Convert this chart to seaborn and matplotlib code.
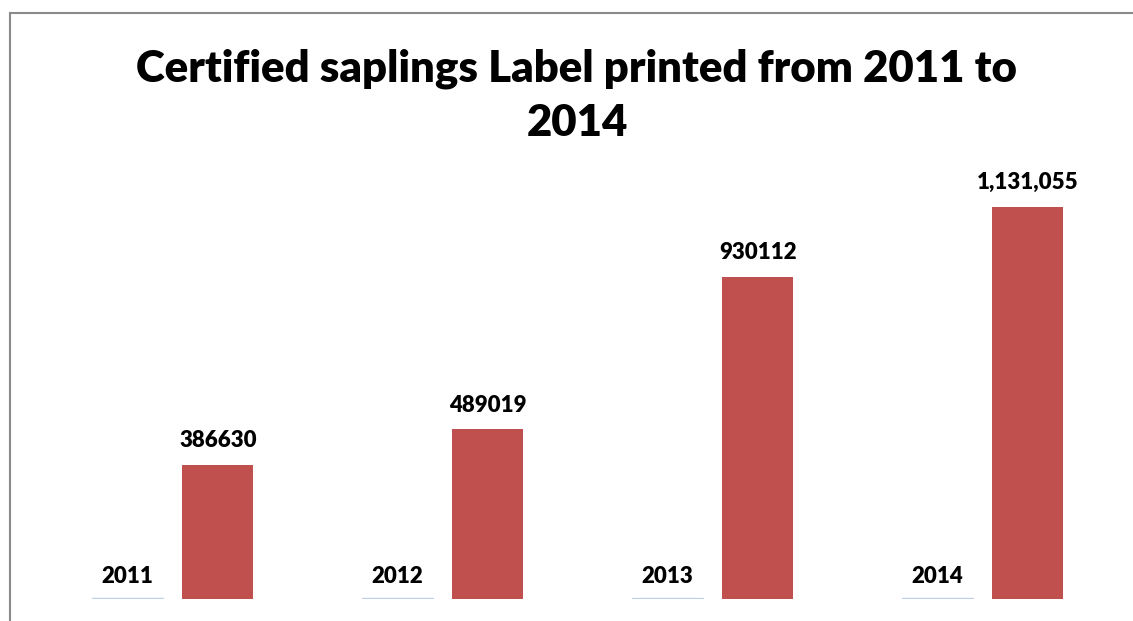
import matplotlib
matplotlib.use("Agg")
import matplotlib.pyplot as plt
import seaborn as sns
import pandas as pd
from matplotlib.patches import Rectangle

years = ["2011", "2012", "2013", "2014"]
year_values = [2011, 2012, 2013, 2014]
label_values = [386630, 489019, 930112, 1131055]
label_texts = ["386630", "489019", "930112", "1,131,055"]
series_names = ["Year", "Labels printed"]

df = pd.DataFrame({
    "cat": years * 2,
    "value": year_values + label_values,
    "series": [series_names[0]] * 4 + [series_names[1]] * 4,
})

sns.set_theme(style="white")
plt.rcParams['font.family'] = ['Lato', 'DejaVu Sans']

W, H = 1133, 621
fig = plt.figure(figsize=(W / 100, H / 100), dpi=100)
ax = fig.add_axes([37.75 / W, (H - 599) / H, 1080 / W, 416 / H])

sns.barplot(data=df, x="cat", y="value", hue="series", order=years,
            hue_order=series_names, palette=["#BDD0E8", "#C0504D"],
            width=0.67, saturation=1, legend=False, ax=ax)

bw = 71 / 270
for i, p in enumerate(ax.patches):
    c = p.get_x() + p.get_width() / 2
    p.set_width(bw)
    p.set_x(c - bw / 2)
    p.set_linewidth(0)
for p in ax.containers[0]:
    p.set_edgecolor("#BDD0E8")
    p.set_linewidth(1.0)

ax.set_xlim(-0.5, 3.5)
ax.set_ylim(0, 1.2e6)
ax.axis("off")

ax.bar_label(ax.containers[0], labels=years, padding=8, fontsize=16,
             fontweight="heavy", color="black")
ax.bar_label(ax.containers[1], labels=label_texts, padding=10, fontsize=16,
             fontweight="heavy", color="black")

fig.text(577 / W, 1 - 96 / H, "Certified saplings Label printed from 2011 to\n2014",
         ha="center", va="center", fontsize=31.5, fontweight="heavy",
         linespacing=1.42, color="black")

fig.patches.append(Rectangle((9.5 / W, -0.2), 1.5, 1.2 - 12.5 / H,
                             transform=fig.transFigure, fill=False,
                             edgecolor="#8a8a8a", linewidth=1.5, figure=fig))

fig.savefig("out.png", dpi=100, facecolor="white")
